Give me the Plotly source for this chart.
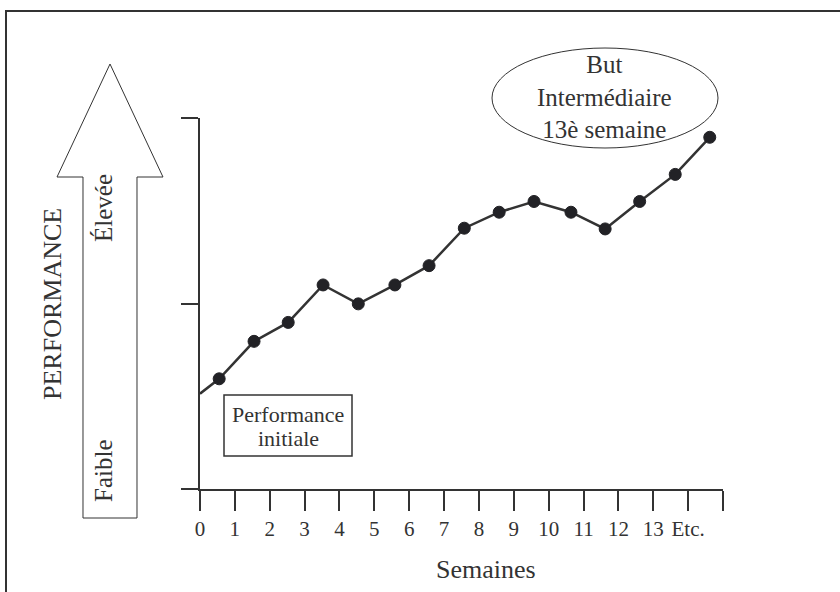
import plotly.graph_objects as go

# ---- data ----
semaine_labels = ["0", "1", "2", "3", "4", "5", "6", "7", "8", "9", "10", "11", "12", "13", "Etc.", ""]
semaine_ticks = list(range(16))
# position on the week axis of each measurement (first value = initial performance)
semaine_pos = [0.0, 0.55, 1.55, 2.53, 3.53, 4.54, 5.59, 6.57, 7.58, 8.58, 9.58, 10.64, 11.62, 12.61, 13.63, 14.62]
performance = [25.7, 29.7, 39.8, 44.9, 55.0, 49.9, 55.0, 60.2, 70.3, 74.6, 77.5, 74.6, 70.1, 77.5, 84.8, 94.8]
y_ticks = [0, 50, 100]

INK = "#333333"
DOT = "#222226"
FONT = "Liberation Serif, Times New Roman, serif"

W, H = 840, 592
L, R, T, B = 200, 117, 118, 103
PW, PH = W - L - R, H - T - B


def px(x):
    return (x - L) / PW


def py(y):
    return (H - B - y) / PH


marker_sizes = [0] + [12] * (len(semaine_pos) - 1)

fig = go.Figure()
fig.add_trace(go.Scatter(
    x=semaine_pos, y=performance, mode="lines+markers",
    line=dict(color=INK, width=2.5),
    marker=dict(color=DOT, size=marker_sizes, symbol="circle", opacity=1,
                line=dict(width=1, color=DOT)),
    cliponaxis=False, showlegend=False, hoverinfo="skip",
))

shapes = []
# outer frame
shapes.append(dict(type="rect", xref="paper", yref="paper",
                   x0=px(6), x1=px(860), y0=py(11), y1=py(620),
                   line=dict(color=INK, width=2), fillcolor="rgba(0,0,0,0)", layer="below"))
# big arrow
pts = [(83, 518), (83, 177), (57, 177), (110, 64), (163, 177), (137, 177), (137, 518)]
path = "M " + " L ".join(f"{px(a):.5f},{py(b):.5f}" for a, b in pts) + " Z"
shapes.append(dict(type="path", xref="paper", yref="paper", path=path,
                   line=dict(color=INK, width=1), fillcolor="white"))
# box "Performance initiale"
shapes.append(dict(type="rect", xref="paper", yref="paper",
                   x0=px(224), x1=px(352), y0=py(395), y1=py(456),
                   line=dict(color=INK, width=1.5), fillcolor="white"))
# goal ellipse
shapes.append(dict(type="circle", xref="paper", yref="paper",
                   x0=px(492), x1=px(718), y0=py(48), y1=py(148),
                   line=dict(color=INK, width=1), fillcolor="white"))

ann = []


def text(t, x, y, size, angle=0):
    ann.append(dict(text=t, x=px(x), y=py(y), xref="paper", yref="paper",
                    showarrow=False, xanchor="center", yanchor="middle",
                    textangle=angle, font=dict(family=FONT, size=size, color=INK)))


text("PERFORMANCE", 52, 304, 26, -90)
text("Élevée", 103, 208, 25, -90)
text("Faible", 103, 471, 25, -90)
text("Performance", 288, 414, 22)
text("initiale", 288, 438, 22)
text("But<br>Intermédiaire<br>13è semaine", 604, 97, 25)
text("Semaines", 486, 569, 26)

fig.update_layout(
    width=W, height=H,
    margin=dict(l=L, r=R, t=T, b=B, pad=0),
    paper_bgcolor="white", plot_bgcolor="white",
    shapes=shapes, annotations=ann,
    font=dict(family=FONT, color=INK),
    xaxis=dict(range=[0, 15], tickvals=semaine_ticks, ticktext=semaine_labels,
               showline=True, linecolor=INK, linewidth=2,
               ticks="outside", ticklen=20, tickwidth=2, tickcolor=INK,
               showgrid=False, zeroline=False,
               tickfont=dict(family=FONT, size=21, color=INK)),
    yaxis=dict(range=[0, 100], tickvals=y_ticks, showticklabels=False,
               showline=True, linecolor=INK, linewidth=2,
               ticks="outside", ticklen=17, tickwidth=2, tickcolor=INK,
               showgrid=False, zeroline=False),
)

fig.write_html("out.html", config={"displayModeBar": False},
               post_script="document.body.style.margin='0';document.body.style.overflow='hidden';")
